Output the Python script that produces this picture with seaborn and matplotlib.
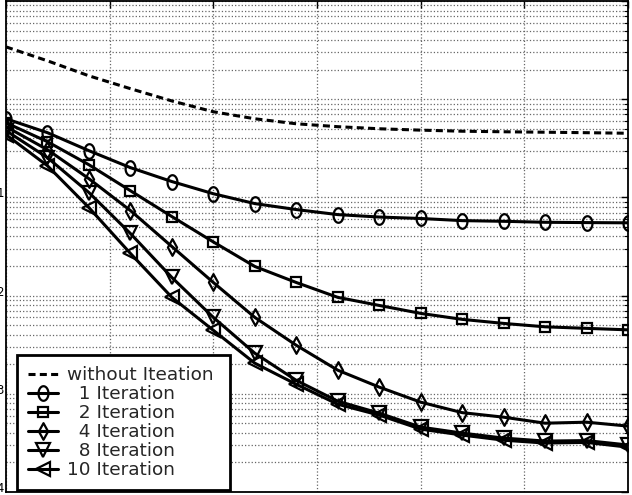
import numpy as np
import matplotlib
matplotlib.use("Agg")
import matplotlib.pyplot as plt
from matplotlib.path import Path
from matplotlib.ticker import FixedLocator, FixedFormatter, LogLocator, NullLocator
import seaborn as sns

# x axis: 16 points, 0..30 step 2
snr = [0, 2, 4, 6, 8, 10, 12, 14, 16, 18, 20, 22, 24, 26, 28, 30]

no_iter = [3.41, 2.46, 1.73, 1.28, 0.96, 0.745, 0.632, 0.562, 0.525, 0.50,
           0.484, 0.472, 0.466, 0.461, 0.456, 0.45]
iter_1 = [0.632, 0.456, 0.299, 0.201, 0.145, 0.109, 0.0865, 0.0752, 0.0668, 0.0631,
          0.0610, 0.0580, 0.0571, 0.0558, 0.0554, 0.0551]
iter_2 = [0.575, 0.369, 0.215, 0.117, 0.0638, 0.0352, 0.0198, 0.0136, 0.0096, 0.00794,
          0.00659, 0.00573, 0.00521, 0.00481, 0.00464, 0.00448]
iter_4 = [0.525, 0.306, 0.155, 0.0735, 0.0316, 0.0136, 0.0060, 0.00312, 0.00174, 0.00117,
          0.000822, 0.000643, 0.000578, 0.000502, 0.000514, 0.000469]
iter_8 = [0.478, 0.254, 0.112, 0.0429, 0.0153, 0.0060, 0.00259, 0.00137, 0.000841, 0.000635,
          0.000458, 0.000398, 0.000354, 0.00033, 0.000334, 0.000301]
iter_10 = [0.435, 0.210, 0.0787, 0.0269, 0.0096, 0.00443, 0.00205, 0.00125, 0.000783, 0.000607,
           0.000437, 0.000380, 0.000337, 0.000315, 0.00032, 0.000286]

labels = ["without Iteation ", "  1 Iteration", "  2 Iteration", "  4 Iteration",
          "  8 Iteration", "10 Iteration"]
x_ticks = [0, 5, 10, 15, 20, 25, 30]
y_ticks = [1e-4, 1e-3, 1e-2, 1e-1, 1e0, 1e1]
y_tick_labels = ["$10^{-4}$", "$10^{-3}$", "$10^{-2}$", "$10^{-1}$", "", ""]

sns.set_style("white")
plt.rcParams["font.family"] = ["DejaVu Sans"]


def squeezed(verts, sx):
    v = np.array(verts, dtype=float)
    v[:, 0] *= sx
    return Path(v, closed=True)


t = np.linspace(0, 2 * np.pi, 40)
ellipse = squeezed(np.column_stack([np.cos(t), np.sin(t)]), 0.68)
diamond = squeezed([[0, 1], [1, 0], [0, -1], [-1, 0], [0, 1]], 0.55)

fig = plt.figure(figsize=(6.32, 4.95), dpi=100)
ax = fig.add_axes([6 / 632, 3 / 495, 622 / 632, 491 / 495])

line_kw = dict(color="black", linewidth=2.2, markerfacecolor="none",
               markeredgecolor="black", markeredgewidth=1.6)

sns.lineplot(x=snr, y=no_iter, ax=ax, label=labels[0], color="black",
             linewidth=2.2, linestyle=(0, (2.3, 1.4)))
sns.lineplot(x=snr, y=iter_1, ax=ax, label=labels[1], marker=ellipse, markersize=10.5, **line_kw)
sns.lineplot(x=snr, y=iter_2, ax=ax, label=labels[2], marker="s", markersize=7, **line_kw)
sns.lineplot(x=snr, y=iter_4, ax=ax, label=labels[3], marker=diamond, markersize=12, **line_kw)
sns.lineplot(x=snr, y=iter_8, ax=ax, label=labels[4], marker="v", markersize=10, **line_kw)
sns.lineplot(x=snr, y=iter_10, ax=ax, label=labels[5], marker="<", markersize=10, **line_kw)

ax.set_yscale("log")
ax.set_xlim(0, 30)
ax.set_ylim(1e-4, 1e1)
ax.xaxis.set_major_locator(FixedLocator(x_ticks))
ax.xaxis.set_minor_locator(NullLocator())
ax.yaxis.set_major_locator(FixedLocator(y_ticks))
ax.yaxis.set_major_formatter(FixedFormatter(y_tick_labels))
ax.yaxis.set_minor_locator(LogLocator(base=10, subs=np.arange(2, 10), numticks=20))

ax.grid(True, which="major", linestyle=":", color="0.4", linewidth=0.9)
ax.grid(True, which="minor", axis="y", linestyle=":", color="0.4", linewidth=0.9)
ax.tick_params(which="both", direction="in", top=True, right=True, colors="black")
ax.tick_params(which="major", length=5, width=1.0, pad=1, labelsize=12)
ax.tick_params(axis="x", labelbottom=False)
ax.tick_params(which="minor", length=3, width=0.8)
for s in ax.spines.values():
    s.set_color("black")
    s.set_linewidth(1.3)

leg = ax.legend(loc="lower left", bbox_to_anchor=(11 / 622, 2 / 491), fontsize=13.3,
                frameon=True, fancybox=False, framealpha=1, edgecolor="black",
                borderpad=0.58, labelspacing=0.055, handlelength=1.65, handletextpad=0.45,
                borderaxespad=0)
leg.get_frame().set_linewidth(2)

fig.savefig("out.png", dpi=100, facecolor="white")
